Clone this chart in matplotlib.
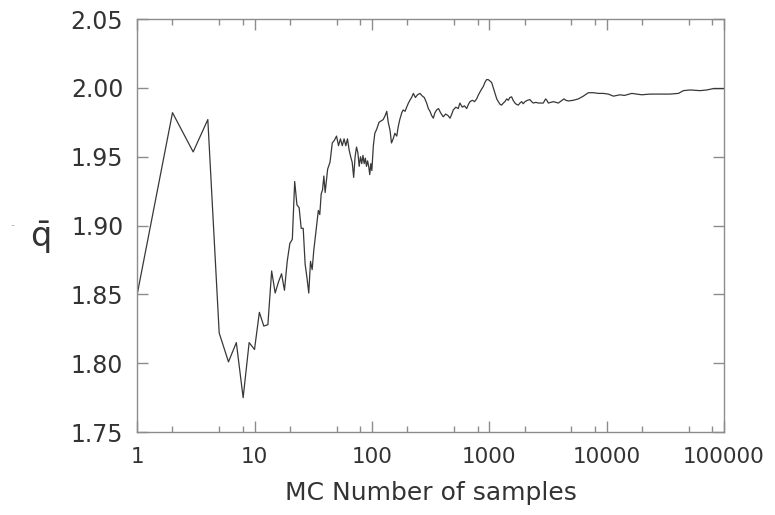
import matplotlib
matplotlib.use("Agg")
import matplotlib.pyplot as plt
from matplotlib.ticker import FixedLocator, FuncFormatter

# running mean of q vs number of MC samples
n_samples = [
    1, 2, 3, 4, 5, 6, 7, 8, 9, 10, 11, 12, 13, 14, 15, 16, 17, 18, 19, 20,
    21, 22, 23, 24, 25, 26, 27, 28, 29, 30, 31, 32, 33, 34, 35, 36, 37, 38, 39, 40,
    42, 44, 46, 48, 50, 52, 54, 56, 58, 60, 62, 64, 66, 68, 70, 72, 74, 76, 78, 80,
    82, 84, 86, 88, 90, 92, 94, 96, 98, 100,
    103, 106, 110, 115, 120, 125, 130, 134, 138, 143, 147, 152, 157, 163, 168, 173,
    180, 185, 192, 198, 205, 211, 218, 226, 235, 245, 257, 270, 280, 293, 303, 313,
    323, 334, 345, 357, 370, 385, 406, 425, 445, 464, 480, 494, 520, 545, 563, 590,
    615, 643, 665, 686, 720, 750, 782, 810, 834, 860, 891, 920, 950, 982, 1016, 1049,
    1084, 1120, 1160, 1196, 1240, 1277, 1320, 1362, 1410, 1455, 1500, 1553, 1600, 1659,
    1710, 1771, 1830, 1892, 1950, 2018, 2120, 2228, 2300, 2377, 2500, 2624, 2750, 2891,
    3027, 3100, 3192, 3350, 3524, 3700, 3882, 4100, 4345, 4500, 4723, 5212, 5751, 6342,
    6998, 7720, 8516, 9393, 10360, 11450, 12200, 13050, 14200, 16410, 19950, 23500,
    28620, 34800, 41000, 45200, 51550, 62800, 71600, 81500, 100000,
]
q_mean = [
    1.850, 1.982, 1.9535, 1.977, 1.822, 1.801, 1.815, 1.775, 1.815, 1.810,
    1.837, 1.827, 1.828, 1.867, 1.851, 1.859, 1.865, 1.853, 1.874, 1.887,
    1.890, 1.932, 1.915, 1.913, 1.898, 1.898, 1.872, 1.862, 1.851, 1.874,
    1.868, 1.882, 1.892, 1.901, 1.911, 1.908, 1.923, 1.926, 1.936, 1.924,
    1.941, 1.946, 1.960, 1.962, 1.965, 1.958, 1.963, 1.958, 1.963, 1.958,
    1.963, 1.955, 1.950, 1.946, 1.935, 1.950, 1.957, 1.953, 1.943, 1.950,
    1.945, 1.951, 1.945, 1.949, 1.943, 1.947, 1.943, 1.937, 1.945, 1.940,
    1.958, 1.967, 1.970, 1.975, 1.976, 1.977, 1.980, 1.983, 1.975, 1.969,
    1.960, 1.963, 1.967, 1.965, 1.972, 1.977, 1.982, 1.984, 1.983, 1.986,
    1.989, 1.991, 1.993, 1.996, 1.993, 1.995, 1.996, 1.994, 1.993, 1.989,
    1.985, 1.983, 1.980, 1.978, 1.982, 1.984, 1.985, 1.982, 1.979, 1.981,
    1.980, 1.978, 1.981, 1.984, 1.986, 1.985, 1.989, 1.986, 1.987, 1.985,
    1.988, 1.990, 1.991, 1.990, 1.992, 1.995, 1.997, 1.999, 2.001, 2.004,
    2.006, 2.006, 2.005, 2.004, 2.000, 1.996, 1.992, 1.990, 1.988, 1.9875,
    1.989, 1.990, 1.992, 1.991, 1.993, 1.9935, 1.991, 1.989, 1.988, 1.9875,
    1.989, 1.990, 1.9885, 1.990, 1.991, 1.9915, 1.990, 1.989, 1.9895, 1.989,
    1.989, 1.989, 1.992, 1.991, 1.989, 1.9895, 1.990, 1.9895, 1.989, 1.9905,
    1.992, 1.991, 1.9905, 1.991, 1.992, 1.994, 1.9965, 1.9965, 1.996, 1.996,
    1.9955, 1.994, 1.9945, 1.995, 1.9945, 1.996, 1.995, 1.9955, 1.9955, 1.9955,
    1.996, 1.998, 1.9985, 1.998, 1.9985, 1.9995, 1.9995,
]

x_ticks = [1, 10, 100, 1000, 10000, 100000]
y_ticks = [1.75, 1.80, 1.85, 1.90, 1.95, 2.00, 2.05]

plt.rcParams["font.family"] = "DejaVu Sans"
plt.rcParams["mathtext.fontset"] = "dejavusans"

text_col = "#333333"
spine_col = "#8c8c8c"

fig = plt.figure(figsize=(7.75, 5.15), dpi=100)
ax = fig.add_axes([0.177, 0.161, 0.757, 0.802])

ax.plot(n_samples, q_mean, color="#383838", linewidth=0.9)

ax.set_xscale("log")
ax.set_xlim(1, 100000)
ax.set_ylim(1.75, 2.05)

ax.xaxis.set_major_locator(FixedLocator(x_ticks))
ax.xaxis.set_major_formatter(FuncFormatter(lambda v, p: f"{int(round(v))}"))
ax.xaxis.set_minor_locator(FixedLocator([m * 10 ** k for k in range(5) for m in (2, 5, 8)]))
ax.xaxis.set_minor_formatter(FuncFormatter(lambda v, p: ""))
ax.yaxis.set_major_locator(FixedLocator(y_ticks))
ax.yaxis.set_major_formatter(FuncFormatter(lambda v, p: f"{v:.2f}"))

for s in ax.spines.values():
    s.set_color(spine_col)
    s.set_linewidth(1.0)

ax.tick_params(which="both", direction="in", top=True, right=True,
               color=spine_col, width=1.0, labelcolor=text_col)
ax.tick_params(axis="x", which="major", length=8, pad=11, labelsize=15.5)
ax.tick_params(axis="x", which="minor", length=4)
ax.tick_params(axis="y", which="major", length=8, pad=10, labelsize=17)

ax.set_xlabel("MC Number of samples", fontsize=18, color=text_col, labelpad=10)
ax.set_ylabel(r"$\bar{\mathrm{q}}$", fontsize=24, color=text_col, rotation=0,
              va="center", ha="center")
ax.yaxis.set_label_coords(-0.165, 0.47)

fig.text(0.013, 0.557, "-", fontsize=8, color="#b0b0b0")

fig.savefig("out.png", dpi=100)
